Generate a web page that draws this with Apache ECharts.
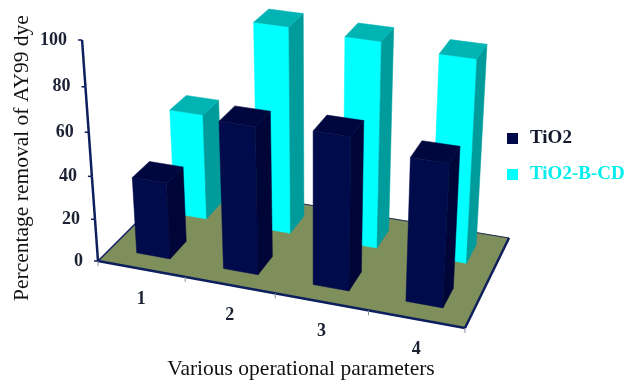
<!DOCTYPE html>
<html>
<head>
<meta charset="utf-8">
<style>html,body{margin:0;padding:0;background:#fff}#chart{width:627px;height:380px}</style>
<script src="https://cdn.jsdelivr.net/npm/echarts@6/dist/echarts.min.js"></script>
</head>
<body>
<div id="chart"></div>
<script>
// Removal of AY99 dye for each set of operational parameters
const categories = ['1', '2', '3', '4'];
const valueTicks = [0, 20, 40, 60, 80, 100];
const tio2 = [36, 68, 70, 65];
const tio2BCd = [51, 97, 96, 94];

// Camera for the pseudo-3D plot: where the floor corners and the vertical
// vanishing point land on the page.
const floorQuad = [[98, 261], [465, 328], [509, 238], [176, 183]];
const vanish = [314, 3257];
const fullScaleW = -0.0687;
const barHalfWidth = 0.195;
const rowFront = { tio2: [0.15, 0.36], cyan: [0.64, 0.86] };

const homography = (function (q) {
  const [x0, y0] = q[0], [x1, y1] = q[1], [x2, y2] = q[2], [x3, y3] = q[3];
  const dx1 = x1 - x2, dx2 = x3 - x2, sx = x0 - x1 + x2 - x3;
  const dy1 = y1 - y2, dy2 = y3 - y2, sy = y0 - y1 + y2 - y3;
  const den = dx1 * dy2 - dx2 * dy1;
  const g = (sx * dy2 - dx2 * sy) / den, h = (dx1 * sy - sx * dy1) / den;
  return {
    a: x1 - x0 + g * x1, b: x3 - x0 + h * x3, c: x0,
    d: y1 - y0 + g * y1, e: y3 - y0 + h * y3, f: y0, g, h
  };
})(floorQuad);

// x: 0..4 along the categories, z: 0..1 into the depth, v: 0..100 up
function project(x, z, v) {
  const u = x / categories.length, m = homography, t = (v / 100) * fullScaleW;
  const px = m.a * u + m.b * z + m.c + t * vanish[0];
  const py = m.d * u + m.e * z + m.f + t * vanish[1];
  const w = m.g * u + m.h * z + 1 + t;
  return [px / w, py / w];
}

// Reads a data point back through the axis scales into plot units
function toPlot(params, api, cat, val) {
  const c = api.coord([cat, val]), r = params.coordSys;
  return {
    x: (c[0] - r.x) / r.width * categories.length,
    v: (r.y + r.height - c[1]) / r.height * 100
  };
}

function poly(points, fill) {
  return { type: 'polygon', shape: { points }, style: { fill, stroke: fill, lineWidth: 0.5 } };
}
function seg(a, b, stroke, lineWidth) {
  return { type: 'line', shape: { x1: a[0], y1: a[1], x2: b[0], y2: b[1] }, style: { stroke, lineWidth } };
}
function label(text, pos, align, font) {
  return {
    type: 'text', x: pos[0], y: pos[1],
    style: { text, align, verticalAlign: 'middle', fill: '#1c2233', font }
  };
}

function barRenderer(row, shades) {
  return function (params, api) {
    const p = toPlot(params, api, api.value(0), api.value(1));
    const x0 = p.x - barHalfWidth, x1 = p.x + barHalfWidth, z0 = row[0], z1 = row[1], v = p.v;
    const A = project(x0, z0, 0), B = project(x1, z0, 0), C = project(x1, z1, 0);
    const D = project(x0, z0, v), E = project(x1, z0, v), F = project(x1, z1, v), G = project(x0, z1, v);
    return {
      type: 'group',
      children: [
        poly([A, B, E, D], shades.front),
        poly([B, C, F, E], shades.side),
        poly([D, E, F, G], shades.top)
      ]
    };
  };
}

const serifBold = 'bold 18px "Liberation Serif"';
const axisNavy = '#0d1f5c';

const chart = echarts.init(document.getElementById('chart'));
chart.setOption({
  animation: false,
  backgroundColor: '#ffffff',
  grid: { left: 0, right: 0, top: 0, bottom: 0 },
  xAxis: { type: 'category', data: categories, show: false },
  yAxis: { type: 'value', min: 0, max: 100, interval: 20, show: false },
  legend: {
    orient: 'vertical', left: 507, top: 129, padding: 0, itemWidth: 11, itemHeight: 11, itemGap: 17,
    icon: 'rect',
    selectedMode: false,
    textStyle: { fontFamily: 'Liberation Serif', fontWeight: 'bold', fontSize: 19, padding: [0, 0, 0, 7] },
    data: [
      { name: 'TiO2', textStyle: { color: '#14192e' } },
      { name: 'TiO2-B-CD', textStyle: { color: '#00eeee' } }
    ]
  },
  graphic: [
    {
      type: 'text', x: 301, y: 369,
      style: { text: 'Various operational parameters', align: 'center', verticalAlign: 'middle', fill: '#111', font: '21.5px "Liberation Serif"' }
    },
    {
      type: 'text', x: 22, y: 158, rotation: Math.PI / 2,
      style: { text: 'Percentage removal of AY99 dye', align: 'center', verticalAlign: 'middle', fill: '#111', font: '21.5px "Liberation Serif"' }
    }
  ],
  series: [
    {
      name: 'floor', type: 'custom', data: [[0, 0]], silent: true, z: 1,
      renderItem() {
        const a = project(0, 0, 0), b = project(4, 0, 0), c = project(4, 1, 0), d = project(0, 1, 0);
        const children = [
          poly([a, b, c, d], '#7f8f5c'),
          seg(d, c, '#1c2a55', 1),
          seg(a, d, axisNavy, 1.5),
          seg(b, c, axisNavy, 2.5),
          seg(a, b, axisNavy, 2.5)
        ];
        for (let i = 0; i <= categories.length; i++) {
          const p = project(i, 0, 0);
          children.push(seg(p, [p[0], p[1] + 5], '#8a8f9c', 1));
        }
        return { type: 'group', children };
      }
    },
    {
      name: 'axis', type: 'custom', data: valueTicks.map((v) => [0, v]), silent: true, z: 2,
      renderItem(params, api) {
        const v = toPlot(params, api, 0, api.value(1)).v;
        const p = project(0, 0, v);
        const children = [
          seg([p[0] - 4, p[1]], p, axisNavy, 1.5),
          label(String(api.value(1)), [p[0] - 15, p[1]], 'right', serifBold)
        ];
        if (params.dataIndex > 0) children.push(seg(project(0, 0, valueTicks[params.dataIndex - 1]), p, axisNavy, 2.5));
        return { type: 'group', children };
      }
    },
    {
      name: 'categories', type: 'custom', data: categories.map((c, i) => [i]), silent: true, z: 2,
      renderItem(params, api) {
        const i = api.value(0), p = project(i + 0.5, 0, 0);
        return label(categories[i], [p[0], p[1] + 30], 'center', serifBold);
      }
    },
    {
      name: 'TiO2-B-CD', type: 'custom', z: 3,
      itemStyle: { color: '#00ffff' },
      encode: { x: 0, y: 1 },
      data: tio2BCd.map((v, i) => [i, v]),
      renderItem: barRenderer(rowFront.cyan, { front: '#00ffff', side: '#009c9c', top: '#00b4b4' })
    },
    {
      name: 'TiO2', type: 'custom', z: 4,
      itemStyle: { color: '#000a4a' },
      encode: { x: 0, y: 1 },
      data: tio2.map((v, i) => [i, v]),
      renderItem: barRenderer(rowFront.tio2, { front: '#000b4c', side: '#000538', top: '#00073f' })
    }
  ]
});
</script>
</body>
</html>
